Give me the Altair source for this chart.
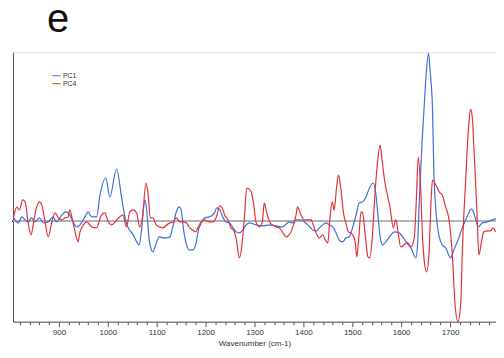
import altair as alt
import pandas as pd

# PC loadings: (wavenumber cm-1, loading, arbitrary units)
PC1 = [(807,0.4),(817,-0.2),(824,0.4),(831,0.1),(837,-0.1),(844,0.3),(851,-0.1),(860,0.3),(868,-0.2),(878,-0.1),
       (888,0.4),(895,-0.1),(906,0.6),(914,0.9),(922,0.6),(929,-0.1),(936,-0.6),(946,-0.2),(953,0.4),(960,0.9),
       (967,0.4),(977,0.4),(984,2.6),(996,4.3),(1004,2.4),(1018,5.2),(1028,2.4),(1035,0.4),(1041,-0.6),(1052,-1.4),
       (1057,-1.9),(1064,-2.4),(1069,-0.9),(1072,0.8),(1076,2.1),(1080,0.8),(1084,-1.6),(1089,-2.9),(1092,-3.1),(1098,-2.4),
       (1105,-1.6),(1113,-1.7),(1120,-1.7),(1127,-1.6),(1133,-0.6),(1140,0.9),(1146,1.4),(1150,1.1),(1155,-0.9),(1161,-2.4),
       (1166,-2.9),(1174,-2.9),(1181,-2.1),(1184,-1.2),(1191,-0.2),(1198,0.3),(1208,0.4),(1218,0.8),(1223,1.3),(1229,1.1),
       (1235,0.4),(1242,-0.1),(1249,-0.2),(1256,-0.7),(1263,-1.1),(1269,-1.2),(1276,-0.9),(1283,-0.4),(1290,-0.2),(1303,-0.4),
       (1317,-0.5),(1331,-0.4),(1344,-0.5),(1358,-0.6),(1365,-0.3),(1371,-0.1),(1378,-0.2),(1385,0.1),(1395,0.1),(1402,-0.1),
       (1409,-0.4),(1419,-0.9),(1426,-1.0),(1433,-0.7),(1439,-0.4),(1446,-0.2),(1453,-0.4),(1460,-0.6),(1467,-1.2),(1473,-1.9),
       (1480,-2.1),(1487,-1.7),(1494,-1.6),(1501,-0.6),(1508,0.6),(1514,1.8),(1521,1.9),(1528,2.4),(1536,3.4),(1543,3.8),
       (1548,2.8),(1553,0.3),(1557,-1.6),(1562,-2.4),(1569,-2.1),(1579,-1.4),(1586,-1.1),(1596,-1.2),(1603,-1.6),(1610,-2.1),
       (1620,-2.7),(1630,-3.7),(1634,-1.9),(1637,1.8),(1640,5.1),(1643,8.1),(1647,11.4),(1651,14.6),(1656,16.8),(1659,15.1),
       (1664,11.4),(1667,4.8),(1671,1.1),(1678,-1.6),(1684,-2.4),(1691,-2.7),(1701,-3.7),(1708,-2.9),(1718,-1.7),(1725,-0.7),
       (1732,0.1),(1739,0.9),(1744,1.2),(1751,0.4),(1758,-0.6),(1766,-0.2),(1776,-0.1),(1786,0.1),(1794,0.2)]

PC4 = [(807,0.3),(814,1.4),(819,1.1),(826,2.1),(831,1.9),(837,-0.2),(843,-1.4),(848,-0.2),(853,1.1),(860,1.9),
       (865,1.6),(871,0.1),(878,-1.6),(885,-0.2),(892,0.8),(899,0.3),(906,0.1),(912,0.3),(919,0.4),(922,1.1),
       (929,-0.2),(936,-1.7),(939,-2.1),(943,-1.1),(950,-0.4),(957,-0.1),(967,-0.6),(977,-0.7),(987,0.6),(994,0.8),
       (1001,-0.1),(1008,-0.4),(1018,0.1),(1024,0.4),(1031,0.6),(1038,-0.6),(1045,0.9),(1052,1.1),(1059,0.8),(1065,-0.6),
       (1071,0.4),(1078,3.8),(1082,2.8),(1087,0.3),(1092,0.3),(1099,-0.4),(1106,-0.6),(1113,-0.7),(1120,-0.4),(1127,-0.2),
       (1133,-0.1),(1140,0.3),(1147,-0.1),(1154,-0.1),(1161,-0.2),(1166,-0.6),(1173,-0.9),(1180,-1.1),(1184,-0.7),(1191,-0.1),
       (1198,0.1),(1205,-0.1),(1215,-0.1),(1222,0.4),(1229,1.5),(1234,1.3),(1239,0.6),(1246,0.1),(1252,-0.7),(1257,-0.9),
       (1263,-1.9),(1269,-3.7),(1275,-2.1),(1280,0.8),(1284,3.3),(1291,3.1),(1298,1.8),(1303,-0.1),(1310,-0.6),(1316,-0.1),
       (1320,1.8),(1325,0.8),(1331,-0.1),(1337,-0.4),(1344,-0.6),(1351,-0.7),(1358,-1.2),(1365,-1.6),(1371,-1.4),(1378,-0.7),
       (1385,0.6),(1388,1.4),(1395,0.6),(1402,0.1),(1409,0.1),(1416,0.1),(1420,-0.4),(1426,-1.2),(1433,-1.7),(1439,-1.4),
       (1445,-1.9),(1450,-2.2),(1454,0.1),(1459,1.9),(1463,1.1),(1468,3.4),(1472,4.6),(1477,3.1),(1482,0.8),(1487,-0.2),
       (1492,-1.1),(1497,-1.2),(1501,-1.4),(1506,-2.1),(1509,-3.6),(1513,-1.9),(1518,0.9),(1521,0.8),(1527,-1.6),(1532,-3.6),
       (1536,-3.7),(1541,-1.6),(1547,3.1),(1552,6.1),(1557,7.6),(1561,6.1),(1566,4.1),(1571,2.8),(1577,1.4),(1584,-0.7),
       (1589,0.1),(1594,-1.2),(1599,-2.6),(1606,-2.4),(1613,-2.2),(1620,-2.6),(1627,-1.6),(1631,2.1),(1635,6.4),(1640,3.1),
       (1644,-1.9),(1647,-3.9),(1652,-5.1),(1657,-3.2),(1661,1.8),(1664,4.1),(1671,3.6),(1678,2.9),(1684,2.6),(1691,1.4),
       (1698,0.1),(1705,-3.6),(1710,-8.2),(1716,-10.1),(1722,-8.2),(1725,-3.2),(1732,4.1),(1735,7.1),(1739,10.1),(1742,11.2),
       (1746,10.1),(1749,7.1),(1752,4.1),(1755,0.8),(1759,-3.4),(1765,-1.9),(1769,-1.1),(1776,-1.0),(1783,-1.0),(1788,-0.7),
       (1793,-1.1)]

SERIES = ["PC1", "PC4"]
COLORS = ["#3f70da", "#e2323a"]
X_DOMAIN = [806, 1794]
Y_DOMAIN = [-10.1, 16.9]
TICK_VALUES = list(range(820, 1800, 20))

rows = [{"series": "PC1", "wavenumber": w, "loading": v} for w, v in PC1] + \
       [{"series": "PC4", "wavenumber": w, "loading": v} for w, v in PC4]
df = pd.DataFrame(rows)

FONT = "Liberation Sans"

x_enc = alt.X("wavenumber:Q",
              scale=alt.Scale(domain=X_DOMAIN, nice=False, zero=False),
              axis=alt.Axis(values=TICK_VALUES, format="d",
                            labelExpr="datum.value % 100 === 0 ? datum.label : ''",
                            tickSize={"condition": {"test": "datum.value % 100 === 0", "value": 5}, "value": 3},
                            labelOverlap=False, labelFontSize=8, labelColor="#333", labelFont=FONT,
                            labelPadding=2, domainColor="#555", tickColor="#555",
                            title="Wavenumber (cm-1)", titleFontSize=8, titleFont=FONT,
                            titleFontWeight="normal", titleColor="#333", titlePadding=3,
                            grid=False))
y_enc = alt.Y("loading:Q",
              scale=alt.Scale(domain=Y_DOMAIN, nice=False, zero=False),
              axis=alt.Axis(ticks=False, labels=False, title=None, grid=False, domainColor="#555"))

zero = alt.Chart(df).mark_rule(color="#b4b4b4", strokeWidth=0.7).encode(y=alt.datum(0))

lines = alt.Chart(df).mark_line(strokeWidth=1.2, interpolate="monotone").encode(
    x=x_enc, y=y_enc,
    color=alt.Color("series:N",
                    scale=alt.Scale(domain=SERIES, range=COLORS),
                    legend=alt.Legend(title=None, orient="none", legendX=39, legendY=19,
                                      symbolType="stroke", symbolSize=64, symbolStrokeWidth=1,
                                      labelFontSize=7, labelFont=FONT, labelColor="#333",
                                      labelOffset=2, rowPadding=0)),
    detail="series:N",
)

label = alt.Chart(pd.DataFrame({"t": ["e"]})).mark_text(
    align="left", baseline="bottom", fontSize=40, font=FONT, color="#111"
).encode(text="t:N", x=alt.value(34), y=alt.value(-12))

chart = alt.layer(zero, lines, label).properties(
    width=484, height=270,
    autosize=alt.AutoSizeParams(type="none"),
    padding={"left": 5, "top": 44, "right": 0, "bottom": 28},
).configure_view(stroke=None).configure(background="white")

chart.save("out.html", embed_options={"renderer": "svg", "actions": False})
